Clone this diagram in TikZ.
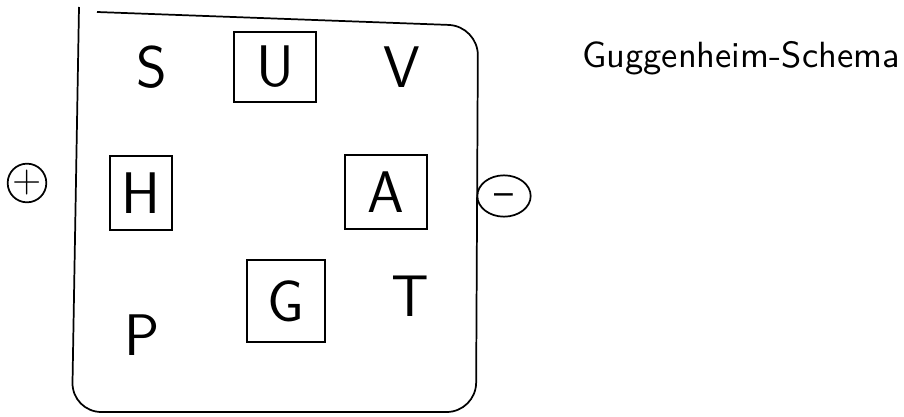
\documentclass[tikz,border=0pt]{standalone}
\usetikzlibrary{shapes.geometric}
\begin{document}
\begin{tikzpicture}[x=0.75pt,y=-0.75pt,
  ink/.style={line width=1.3pt},
  letter/.style={font=\sffamily\fontsize{44}{44}\selectfont, inner sep=0pt},
  framed/.style={letter, draw, ink},
  signbox/.style={draw, ink, font=\sffamily\fontsize{30}{30}\selectfont, inner sep=0pt}]
\useasboundingbox (0,0) rectangle (904,417);
% outer frame
\draw[ink, rounded corners=22pt] (97,12) -- (478,26) -- (476,412) -- (72,412) -- (79,7);
% variables
\node[letter] (S) at (152,67) {S};
\node[letter] (V) at (402,67) {V};
\node[letter] (P) at (142,335) {P};
\node[letter] (T) at (410,296) {T};
% potentials
\node[framed, minimum width=61pt, minimum height=53pt] (U) at (275,67) {U};
\node[framed, minimum width=47pt, minimum height=55pt] (H) at (141,193) {H};
\node[framed, minimum width=62pt, minimum height=56pt] (A) at (386,192) {A};
\node[framed, minimum width=58pt, minimum height=61pt] (G) at (286,301) {G};
% signs
\node[signbox, circle, minimum size=29pt] (plus) at (27,183) {\raisebox{1pt}{+}};
\node[signbox, ellipse, minimum width=40pt, minimum height=31pt] (minus) at (504,196) {\raisebox{-7pt}[0pt][0pt]{--}};
% title
\node[inner sep=0pt] (title) at (741,58) {\resizebox{238pt}{!}{\sffamily Guggenheim-Schema}};
\end{tikzpicture}
\end{document}
